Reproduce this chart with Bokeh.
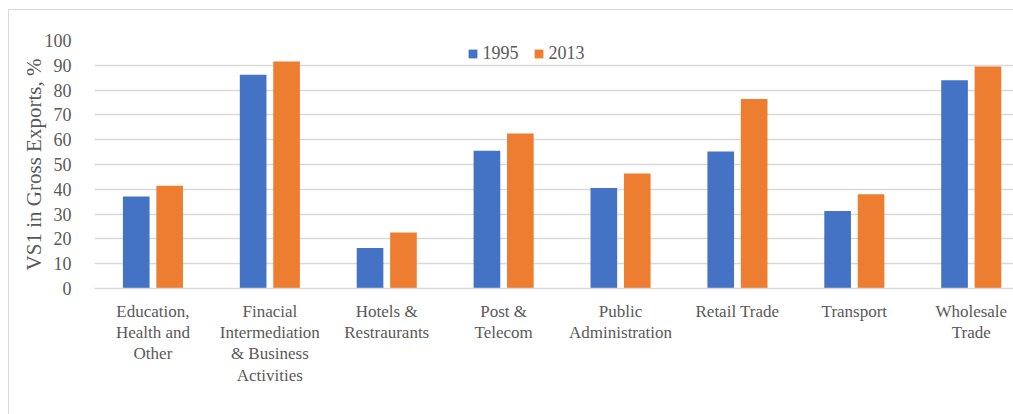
from bokeh.plotting import figure
from bokeh.models import ColumnDataSource, Range1d, FixedTicker, Legend, LegendItem
from bokeh.transform import dodge
from bokeh.embed import file_html
from bokeh.resources import INLINE

categories = [
    "Education,\nHealth and\nOther",
    "Finacial\nIntermediation\n& Business\nActivities",
    "Hotels &\nRestraurants",
    "Post &\nTelecom",
    "Public\nAdministration",
    "Retail Trade",
    "Transport",
    "Wholesale\nTrade",
]
v1995 = [37.1, 86.2, 16.3, 55.5, 40.5, 55.2, 31.3, 84.0]
v2013 = [41.4, 91.5, 22.6, 62.5, 46.4, 76.4, 38.0, 89.5]
y_ticks = [0, 10, 20, 30, 40, 50, 60, 70, 80, 90, 100]

pos = [i + 0.5 for i in range(len(categories))]
src = ColumnDataSource(dict(x=pos, a=v1995, b=v2013))

FONT = "Liberation Serif"
GRAY = "#595959"
GRID = "#d9d9d9"

p = figure(width=1005, height=405, output_backend="svg", toolbar_location=None,
           x_range=Range1d(0, 7.87), y_range=Range1d(0, 100),
           min_border_left=85, min_border_right=0, min_border_top=30, min_border_bottom=127)
p.margin = (9, 0, 0, 8)
p.styles = {"border-left": "1px solid #d9d9d9", "border-top": "1px solid #d9d9d9"}
p.outline_line_color = None
p.background_fill_color = "white"
p.border_fill_color = "white"

r1 = p.vbar(x=dodge("x", -0.143, range=p.x_range), top="a", width=0.228, source=src,
            fill_color="#4472C4", line_color=None)
r2 = p.vbar(x=dodge("x", 0.143, range=p.x_range), top="b", width=0.228, source=src,
            fill_color="#ED7D31", line_color=None)

p.xgrid.grid_line_color = None
p.ygrid.grid_line_color = GRID
p.ygrid.grid_line_width = 1.3

xa = p.xaxis[0]
xa.ticker = FixedTicker(ticks=pos)
xa.major_label_overrides = {x: c for x, c in zip(pos, categories)}
xa.major_tick_line_color = None
xa.minor_tick_line_color = None
xa.axis_line_color = GRID
xa.axis_line_width = 1.3
xa.major_label_standoff = 7
xa.major_label_text_font = FONT
xa.major_label_text_font_size = "17px"
xa.major_label_text_color = GRAY
xa.major_label_text_line_height = 1.13

ya = p.yaxis[0]
ya.ticker = FixedTicker(ticks=y_ticks)
ya.axis_line_color = None
ya.major_tick_line_color = None
ya.minor_tick_line_color = None
ya.major_label_standoff = 17
ya.major_label_text_font = FONT
ya.major_label_text_font_size = "18px"
ya.major_label_text_color = GRAY
ya.axis_label = "VS1 in Gross Exports, %"
ya.axis_label_text_font = FONT
ya.axis_label_text_font_size = "21px"
ya.axis_label_text_font_style = "normal"
ya.axis_label_text_color = GRAY
ya.axis_label_standoff = -4

legend = Legend(items=[LegendItem(label="1995", renderers=[r1]),
                       LegendItem(label="2013", renderers=[r2])],
                orientation="horizontal", location=(372.5, 223.7),
                glyph_width=11, glyph_height=11, label_height=20,
                label_standoff=5, spacing=14, padding=0, margin=0,
                border_line_color=None, background_fill_alpha=0,
                label_text_font=FONT, label_text_font_size="18px",
                label_text_color=GRAY)
p.add_layout(legend)

open("out.html", "w").write(file_html(p, INLINE))
